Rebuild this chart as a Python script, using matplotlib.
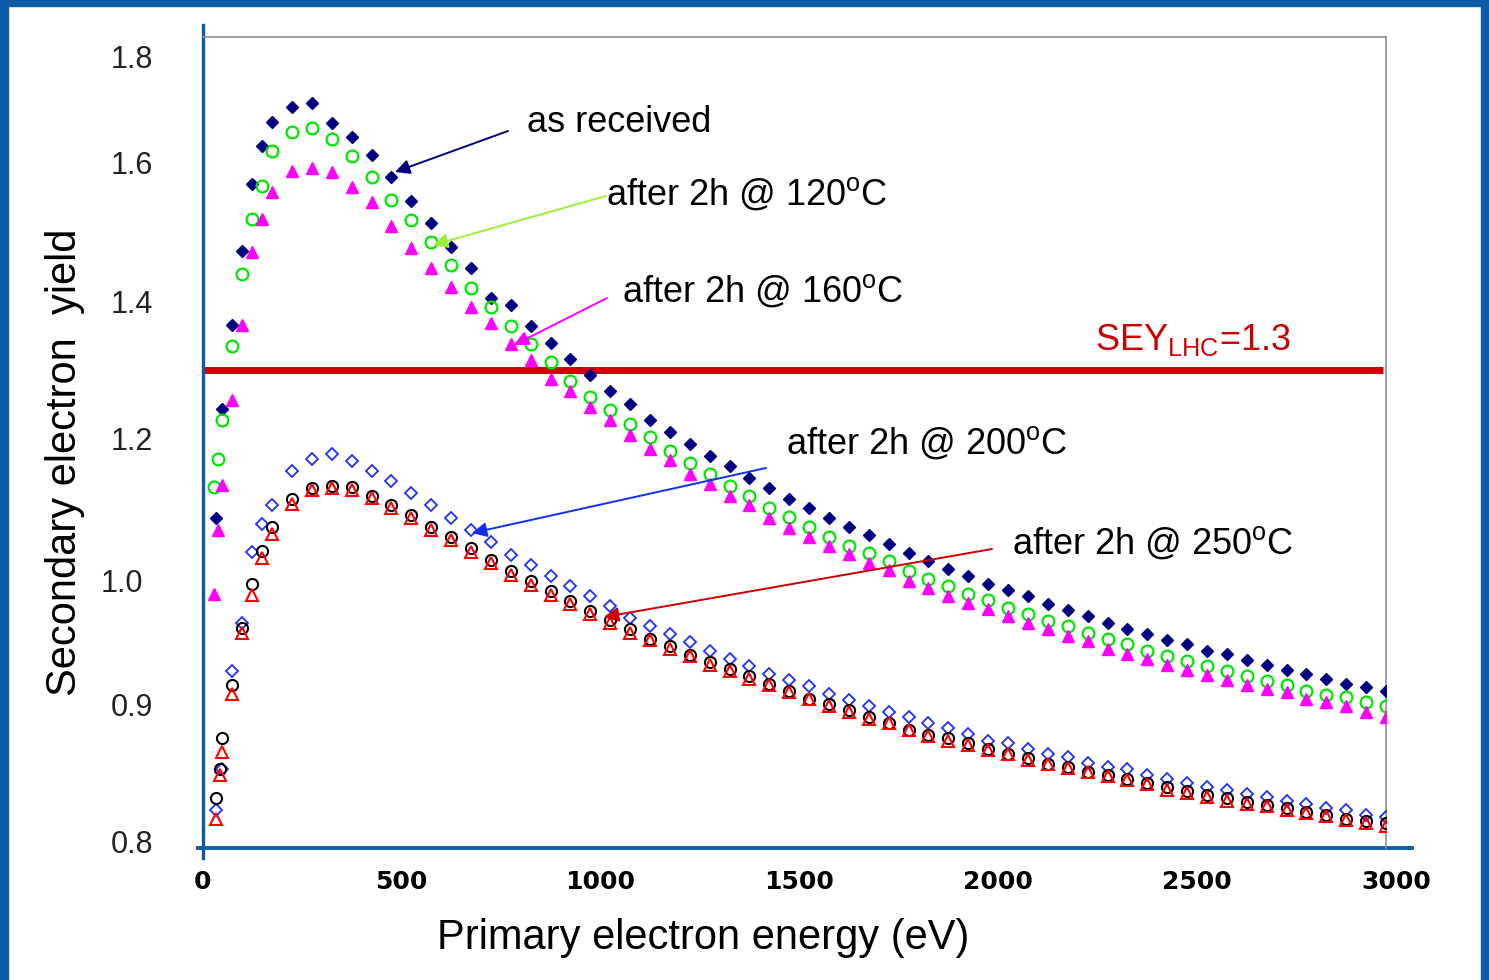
import numpy as np
import matplotlib.pyplot as plt
from matplotlib.patches import Rectangle
from matplotlib.transforms import ScaledTranslation

plt.rcParams["font.family"] = ["Liberation Sans", "DejaVu Sans"]
plt.rcParams["mathtext.fontset"] = "custom"
plt.rcParams["mathtext.rm"] = "Liberation Sans"
plt.rcParams["mathtext.it"] = "Liberation Sans:italic"
plt.rcParams["mathtext.bf"] = "Liberation Sans:bold"

# primary energies (eV): a few low-energy points, then every 50 eV
steps = list(range(250, 3001, 50))

e_received = [60, 75, 100, 125, 150, 175, 200] + steps
sey_received = [1.087, 1.243, 1.365, 1.472, 1.569, 1.630, 1.676,
                1.704, 1.711, 1.674, 1.647, 1.613, 1.578, 1.544, 1.512, 1.478, 1.447,
                1.405, 1.394, 1.364, 1.339, 1.315, 1.292, 1.269, 1.250, 1.227, 1.209,
                1.192, 1.175, 1.160, 1.143, 1.129, 1.114, 1.101, 1.088, 1.074, 1.063,
                1.051, 1.038, 1.027, 1.015, 1.005, 0.997, 0.992, 0.987, 0.981, 0.976,
                0.971, 0.966, 0.961, 0.957, 0.952, 0.949, 0.943, 0.941, 0.936, 0.932,
                0.928, 0.925, 0.921, 0.917, 0.914, 0.911]

e_120 = [55, 65, 75, 100, 125, 150, 175, 200] + steps
sey_120 = [1.131, 1.171, 1.227, 1.334, 1.439, 1.518, 1.565, 1.621,
           1.657, 1.665, 1.643, 1.611, 1.578, 1.545, 1.516, 1.485, 1.452, 1.419,
           1.391, 1.364, 1.337, 1.311, 1.283, 1.260, 1.241, 1.221, 1.201, 1.182,
           1.165, 1.149, 1.132, 1.119, 1.101, 1.089, 1.075, 1.061, 1.048, 1.038,
           1.027, 1.013, 1.001, 0.995, 0.989, 0.984, 0.978, 0.973, 0.967, 0.963,
           0.958, 0.953, 0.949, 0.943, 0.939, 0.935, 0.931, 0.927, 0.923, 0.919,
           0.916, 0.911, 0.908, 0.906, 0.902, 0.899]

e_160 = [55, 65, 75, 100, 125, 150, 175, 200] + steps
sey_160 = [0.989, 1.070, 1.134, 1.255, 1.365, 1.470, 1.518, 1.557,
           1.587, 1.592, 1.585, 1.564, 1.543, 1.508, 1.477, 1.448, 1.420, 1.391,
           1.368, 1.337, 1.314, 1.286, 1.268, 1.245, 1.226, 1.204, 1.185, 1.169,
           1.149, 1.135, 1.118, 1.105, 1.088, 1.073, 1.060, 1.048, 1.037, 1.024,
           1.014, 0.999, 0.994, 0.987, 0.982, 0.977, 0.971, 0.966, 0.961, 0.955,
           0.951, 0.945, 0.941, 0.937, 0.932, 0.928, 0.924, 0.920, 0.916, 0.913,
           0.910, 0.905, 0.902, 0.899, 0.895, 0.891]

e_200 = [60, 75, 100, 125, 150, 175, 200] + steps
sey_200 = [0.823, 0.853, 0.927, 0.966, 1.040, 1.079, 1.106,
           1.153, 1.170, 1.177, 1.168, 1.154, 1.140, 1.123, 1.106, 1.088, 1.071,
           1.053, 1.035, 1.021, 1.005, 0.995, 0.987, 0.979, 0.970, 0.963, 0.957,
           0.950, 0.943, 0.937, 0.931, 0.925, 0.920, 0.915, 0.909, 0.904, 0.899,
           0.895, 0.891, 0.887, 0.883, 0.879, 0.874, 0.872, 0.868, 0.864, 0.862,
           0.858, 0.855, 0.853, 0.849, 0.846, 0.843, 0.840, 0.838, 0.835, 0.833,
           0.830, 0.828, 0.825, 0.823, 0.820, 0.818]

e_black = [60, 70, 75, 100, 125, 150, 175, 200] + steps
sey_black = [0.832, 0.853, 0.876, 0.916, 0.962, 0.997, 1.041, 1.075,
             1.114, 1.129, 1.132, 1.131, 1.118, 1.106, 1.092, 1.075, 1.060, 1.045,
             1.028, 1.012, 0.999, 0.991, 0.983, 0.975, 0.968, 0.961, 0.953, 0.947,
             0.940, 0.934, 0.929, 0.923, 0.917, 0.911, 0.905, 0.901, 0.896, 0.891,
             0.887, 0.882, 0.878, 0.876, 0.872, 0.868, 0.864, 0.861, 0.857, 0.855,
             0.851, 0.849, 0.846, 0.843, 0.840, 0.837, 0.834, 0.832, 0.829, 0.827,
             0.825, 0.822, 0.820, 0.817, 0.815, 0.814]

e_250 = [60, 70, 75, 100, 125, 150, 175, 200] + steps
sey_250 = [0.817, 0.849, 0.866, 0.909, 0.958, 0.988, 1.031, 1.065,
           1.107, 1.127, 1.129, 1.127, 1.115, 1.102, 1.088, 1.071, 1.056, 1.040,
           1.024, 1.007, 0.996, 0.988, 0.981, 0.973, 0.966, 0.958, 0.952, 0.945,
           0.939, 0.932, 0.927, 0.921, 0.916, 0.910, 0.905, 0.899, 0.895, 0.890,
           0.887, 0.882, 0.877, 0.874, 0.871, 0.867, 0.864, 0.860, 0.857, 0.854,
           0.851, 0.848, 0.845, 0.842, 0.838, 0.836, 0.833, 0.830, 0.828, 0.826,
           0.823, 0.821, 0.819, 0.816, 0.814, 0.812]

x_ticks = [0, 500, 1000, 1500, 2000, 2500, 3000]
y_ticks = [0.8, 0.9, 1.0, 1.2, 1.4, 1.6, 1.8]
sey_lhc = 1.3

# the y axis of the original is unevenly spaced between its labels
y_knots = [0.7, 0.8, 0.9, 1.0, 1.2, 1.4, 1.6, 1.8, 1.9]
u_knots = [-137, 0, 137, 262, 404, 541, 680, 786, 839]


def forward(v):
    return np.interp(v, y_knots, u_knots)


def inverse(u):
    return np.interp(u, u_knots, y_knots)


W, H = 1489, 980
BLUE = "#0E5CA8"


def fpos(x, y):
    """pixel position (from top-left) -> figure fraction"""
    return x / W, 1 - y / H


fig = plt.figure(figsize=(W / 100, H / 100), dpi=100)
ax = fig.add_axes([192.5 / W, 132 / H, (1386 - 192.5) / W, 811 / H])
ax.set_yscale("function", functions=(forward, inverse))
ax.set_xlim(0, 3000)
ax.set_ylim(0.7956, 1.836)

ax.hlines(sey_lhc, 26, 2993, color="#CC0000", lw=5, zorder=1.5)

ax.plot(e_received, sey_received, ls="none", marker="D", ms=6,
        mfc="#000080", mec="#000080", zorder=3)
ax.plot(e_120, sey_120, ls="none", marker="o", ms=8.5, mfc="none",
        mec="#00E600", mew=1.6, zorder=3)
ax.plot(e_160, sey_160, ls="none", marker="^", ms=8.5,
        mfc="#FF00FF", mec="#FF00FF", zorder=3)
ax.plot(e_200, sey_200, ls="none", marker="D", ms=6, mfc="none",
        mec="#1F2FFF", mew=1.3, zorder=3)
ax.plot(e_black, sey_black, ls="none", marker="o", ms=8, mfc="none",
        mec="black", mew=1.5, zorder=3)
ax.plot(e_250, sey_250, ls="none", marker="^", ms=8, mfc="none",
        mec="#FF0000", mew=1.5, zorder=3)

# frame: blue left / bottom axis lines, thin grey box on top and right
for side in ["top", "right"]:
    ax.spines[side].set_color("#909090")
    ax.spines[side].set_linewidth(1.2)
ax.spines["top"].set_bounds(26, 3000)
ax.spines["left"].set_position(("data", 26))
ax.spines["left"].set_visible(False)
ax.spines["bottom"].set_visible(False)
tr = ax.get_xaxis_transform()
ax.plot([26, 26], [-0.012, 1.015], color=BLUE, lw=2.4, transform=tr, clip_on=False)
ax.plot([14, 3065], [0, 0], color=BLUE, lw=2.8, transform=tr, clip_on=False)

ax.set_xticks(x_ticks)
ax.set_xticklabels([str(t) for t in x_ticks])
ax.set_yticks(y_ticks)
ax.set_yticklabels(["%.1f" % t for t in y_ticks])
ax.yaxis.set_minor_locator(plt.NullLocator())
ax.tick_params(axis="y", length=0, pad=36, labelsize=22, labelcolor="#222222")
ax.tick_params(axis="x", length=0, pad=16, labelsize=18, labelcolor="black")

for lbl in ax.get_xticklabels():
    lbl.set_fontfamily("DejaVu Sans")
    lbl.set_fontweight("bold")
    lbl.set_transform(lbl.get_transform() + ScaledTranslation(0.10, 0, fig.dpi_scale_trans))
for lbl in ax.get_yticklabels():
    if lbl.get_text() == "1.0":
        lbl.set_transform(lbl.get_transform() + ScaledTranslation(-0.10, 0, fig.dpi_scale_trans))

fig.text(*fpos(65, 462), "Secondary electron  yield", rotation=90,
         ha="center", va="center", fontsize=30)
fig.text(*fpos(703, 938), "Primary electron energy (eV)",
         ha="center", va="center", fontsize=30)

labels = [
    ("as received", (527, 122), "black"),
    ("after 2h @ 120$^{\\mathrm{o}}$C", (606, 194), "black"),
    ("after 2h @ 160$^{\\mathrm{o}}$C", (622, 291), "black"),
    ("after 2h @ 200$^{\\mathrm{o}}$C", (786, 443), "black"),
    ("after 2h @ 250$^{\\mathrm{o}}$C", (1012, 543), "black"),
    ("SEY$_{\\mathrm{LHC}}$=1.3", (1095, 340), "#CC0000"),
]
for txt, (x, y), col in labels:
    fig.text(*fpos(x, y), txt, ha="left", va="center", fontsize=26, color=col)

arrows = [
    ((508, 131), (395, 172), "#000080"),
    ((606, 196), (433, 245), "#9AF03C"),
    ((607, 298), (514, 345), "#FF00FF"),
    ((766, 468), (472, 533), "#1030F0"),
    ((992, 549), (604, 617), "#CC0000"),
]
for start, end, col in arrows:
    ax.annotate("", xy=fpos(*end), xytext=fpos(*start),
                xycoords="figure fraction", textcoords="figure fraction",
                arrowprops=dict(arrowstyle="-|>", color=col, lw=1.4,
                                mutation_scale=22, shrinkA=0, shrinkB=0))

# blue slide border
for rect in [(0, 0, 8 / W, 1), (1 - 8 / W, 0, 8 / W, 1), (0, 1 - 6 / H, 1, 6 / H)]:
    fig.add_artist(Rectangle(rect[:2], rect[2], rect[3], transform=fig.transFigure,
                             color=BLUE, zorder=10))

fig.savefig("out.png", dpi=100)
